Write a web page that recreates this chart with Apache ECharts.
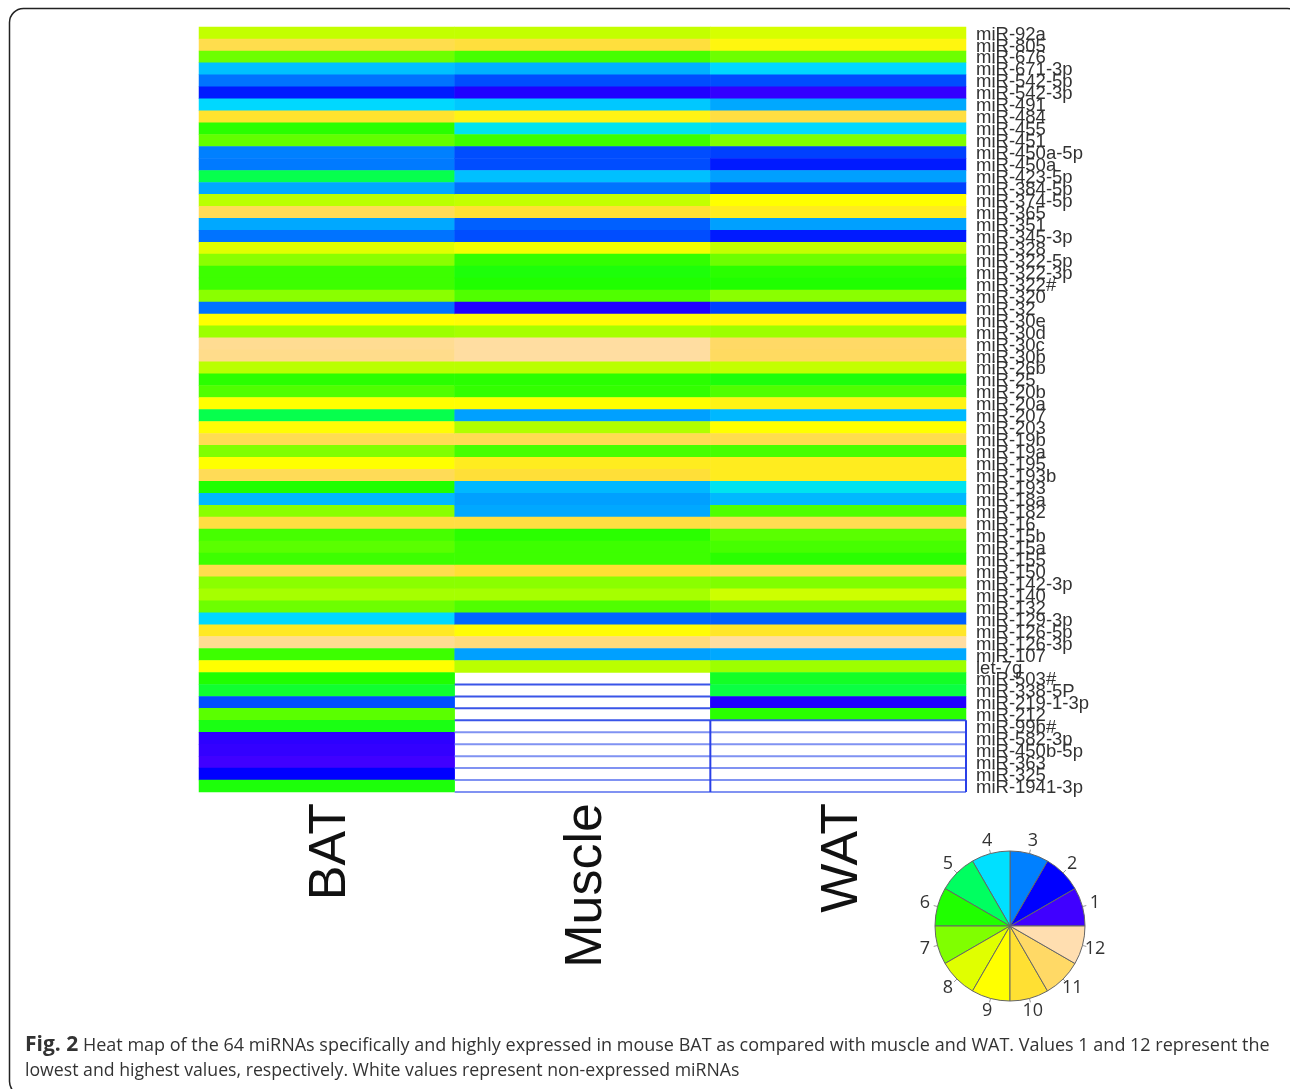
<!DOCTYPE html>
<html><head><meta charset="utf-8">
<style>html,body{margin:0;padding:0;background:#fff}#c{width:1290px;height:1089px}</style>
<script src="https://cdn.jsdelivr.net/npm/echarts@6/dist/echarts.min.js"></script>
</head><body><div id="c"></div>
<script>
const tissues = ['BAT','Muscle','WAT'];
const mirnas = ['miR-92a','miR-805','miR-676','miR-671-3p','miR-542-5p','miR-542-3p','miR-491','miR-484','miR-455','miR-451','miR-450a-5p','miR-450a','miR-423-5p','miR-384-5p','miR-374-5p','miR-365','miR-351','miR-345-3p','miR-328','miR-322-5p','miR-322-3p','miR-322#','miR-320','miR-32','miR-30e','miR-30d','miR-30c','miR-30b','miR-26b','miR-25','miR-20b','miR-20a','miR-207','miR-203','miR-19b','miR-19a','miR-195','miR-193b','miR-193','miR-18a','miR-182','miR-16','miR-15b','miR-15a','miR-155','miR-150','miR-142-3p','miR-140','miR-132','miR-129-3p','miR-126-5p','miR-126-3p','miR-107','let-7g','miR-503#','miR-338-5P','miR-219-1-3p','miR-212','miR-99b#','miR-582-3p','miR-450b-5p','miR-363','miR-325','miR-1941-3p'];
const bat = [7.7,10.5,6.8,3.67,2.9,2.2,3.92,9.9,6.1,6.7,3.0,2.95,5.2,3.42,7.6,10.7,3.42,2.9,8.0,7.1,6.3,6.3,7.1,2.9,9.0,7.3,11.6,11.5,7.6,6.1,6.5,9.0,5.2,9.1,10.6,7.0,9.0,10.7,6.0,3.58,7.1,10.3,6.4,6.6,6.3,10.5,7.1,7.4,6.8,3.92,9.7,11.6,6.3,9.0,6.0,5.5,2.6,6.6,5.8,1.3,1.2,1.0,2.0,5.9];
const muscle = [7.7,10.2,6.4,3.5,2.6,1.5,3.75,9.4,4.1,6.3,2.6,2.6,3.67,2.9,7.7,10.0,2.75,2.6,8.6,6.2,5.9,6.0,6.5,1.5,9.1,7.4,11.8,11.8,7.6,6.1,6.2,9.0,3.33,7.5,10.6,6.4,9.6,10.1,3.58,3.33,3.42,10.3,6.1,6.3,6.3,10.0,7.1,7.4,6.5,2.8,9.1,11.3,3.33,7.6,null,null,null,null,null,null,null,null,null,null];
const wat = [7.9,9.3,6.8,3.92,2.6,1.2,3.42,10.3,3.92,7.0,2.5,2.2,3.33,2.5,9.0,9.6,3.33,2.2,7.7,6.8,6.1,6.0,7.1,2.5,9.2,7.3,11.0,10.9,7.7,5.9,6.5,9.4,3.58,9.0,10.5,6.4,9.6,9.6,4.1,3.58,6.5,10.6,6.6,6.4,6.1,10.5,7.0,7.8,6.9,2.75,9.8,11.8,3.42,7.3,5.6,5.3,1.5,6.1,null,null,null,null,null,null];
const palette = ['#4000ff','#0000ff','#0080ff','#00e0ff','#00ff60','#20ff00','#80ff00','#e0ff00','#ffff00','#ffe033','#ffd966','#ffdeb0'];
const scaleLabels = ['1','2','3','4','5','6','7','8','9','10','11','12'];
const sliceShares = [1,1,1,1,1,1,1,1,1,1,1,1];
const muscleGapEdges = [55,56,57];
const wideGapEdges = [58];
const gapEdges = [59,60,61,62,63,64];
const captionBold = 'Fig. 2';
const captionLine1 = ' Heat map of the 64 miRNAs specifically and highly expressed in mouse BAT as compared with muscle and WAT. Values 1 and 12 represent the';
const captionLine2 = 'lowest and highest values, respectively. White values represent non-expressed miRNAs';

const heat = [];
[bat,muscle,wat].forEach((col,x)=>col.forEach((v,y)=>{ if(v!==null) heat.push([x,y,v]); }));
function segs(edges,x0,x1){const o=[];edges.forEach(e=>{o.push([x0,e],[x1,e],[null,null]);});return o;}
const strong = segs(muscleGapEdges,1,2).concat(segs(wideGapEdges,1,3));
const pale = segs(gapEdges,1,3);
const vert = [[2,58],[2,64],[null,null],[3,58],[3,64]];

const chart = echarts.init(document.getElementById('c'),null,{renderer:'canvas'});
const sans='"Liberation Sans",Arial,sans-serif';
const rect={left:199,top:27,width:767,height:765};
const labelRect={left:203,top:28.5,width:767,height:765.5};
const hiddenCat={axisLine:{show:false},axisTick:{show:false},splitLine:{show:false},axisLabel:{show:false}};
const pieC=[1010,926], pieR=75, labelR=88, tickR=79;
chart.setOption({
 animation:false,
 backgroundColor:'#fff',
 grid:[Object.assign({},rect),Object.assign({},rect),labelRect],
 xAxis:[
  Object.assign({type:'category',gridIndex:0,data:tissues},hiddenCat),
  {type:'value',gridIndex:1,min:0,max:3,show:false},
  {type:'category',gridIndex:2,data:tissues,position:'bottom',axisLine:{show:false},axisTick:{show:false},splitLine:{show:false},
   axisLabel:{rotate:90,margin:9,fontSize:52,fontFamily:sans,color:'#111',interval:0}}
 ],
 yAxis:[
  Object.assign({type:'category',gridIndex:0,data:mirnas,inverse:true},hiddenCat),
  {type:'value',gridIndex:1,min:0,max:64,inverse:true,show:false},
  {type:'category',gridIndex:2,data:mirnas,inverse:true,position:'right',axisLine:{show:false},axisTick:{show:false},splitLine:{show:false},
   axisLabel:{interval:0,margin:6,fontSize:18.5,fontFamily:sans,color:'#333'}}
 ],
 visualMap:{show:false,type:'continuous',min:1,max:12,dimension:2,seriesIndex:0,inRange:{color:palette}},
 series:[
  {type:'heatmap',data:heat,xAxisIndex:0,yAxisIndex:0,progressive:0,itemStyle:{borderWidth:0},emphasis:{disabled:true}},
  {type:'line',xAxisIndex:1,yAxisIndex:1,data:strong,symbol:'none',connectNulls:false,silent:true,lineStyle:{color:'#3a55e8',width:2}},
  {type:'line',xAxisIndex:1,yAxisIndex:1,data:pale,symbol:'none',connectNulls:false,silent:true,lineStyle:{color:'#8092f2',width:2}},
  {type:'line',xAxisIndex:1,yAxisIndex:1,data:vert,symbol:'none',connectNulls:false,silent:true,lineStyle:{color:'#2a40e8',width:2}},
  {type:'pie',center:pieC,radius:[0,pieR],startAngle:0,clockwise:false,avoidLabelOverlap:false,silent:true,
   data:sliceShares.map((s,i)=>({name:scaleLabels[i],value:s,itemStyle:{color:palette[i]}})),
   itemStyle:{borderColor:'#666',borderWidth:1},
   label:{show:true,position:'outside',formatter:'{b}',fontSize:18,color:'#333',fontFamily:'"Open Sans",sans-serif'},
   labelLine:{show:true,length:3,length2:0,lineStyle:{color:'#999',width:1}},
   labelLayout:function(p){
     const e=p.labelLinePoints[0], dx=e[0]-pieC[0], dy=e[1]-pieC[1], r=Math.hypot(dx,dy);
     return {x:pieC[0]+dx/r*labelR,y:pieC[1]+dy/r*labelR,align:'center',verticalAlign:'middle',
       labelLinePoints:[[pieC[0]+dx/r*pieR,pieC[1]+dy/r*pieR],[pieC[0]+dx/r*tickR,pieC[1]+dy/r*tickR],[pieC[0]+dx/r*tickR,pieC[1]+dy/r*tickR]]};
   }}
 ],
 graphic:[
  {type:'rect',z:-1,shape:{x:9.5,y:8.5,width:1292,height:1087,r:14},style:{fill:'none',stroke:'#222',lineWidth:1.5}},
  {type:'text',left:25,top:1035,style:{rich:{b:{font:'bold 21px "Open Sans",sans-serif',fill:'#333'},r:{font:'18px "Open Sans",sans-serif',fill:'#333'}},text:'{b|'+captionBold+'}{r|'+captionLine1+'}'}},
  {type:'text',left:25,top:1062,style:{font:'17.7px "Open Sans",sans-serif',fill:'#333',text:captionLine2}}
 ]
});
</script></body></html>
